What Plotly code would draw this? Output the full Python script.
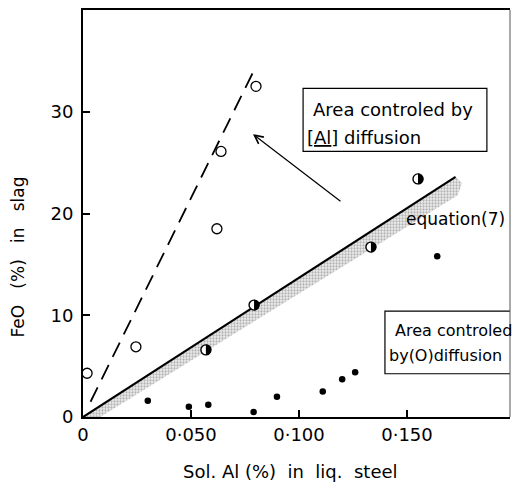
import plotly.graph_objects as go

# Sol. Al in steel (%) vs FeO in slag (%)
open_x = [0.0019, 0.0245, 0.0620, 0.0639, 0.0801]
open_y = [4.3, 6.9, 18.5, 26.1, 32.5]

half_x = [0.0569, 0.0792, 0.1333, 0.1551]
half_y = [6.6, 11.0, 16.7, 23.4]

dot_x = [0.030, 0.049, 0.058, 0.079, 0.0898, 0.111, 0.120, 0.126, 0.164]
dot_y = [1.6, 1.0, 1.2, 0.5, 2.0, 2.5, 3.7, 4.4, 15.8]

# equation (7) line and its scatter band
eq_x = [0.0, 0.1725]
eq_y = [0.0, 23.6]
band_x = [0.0, 0.1725, 0.1755, 0.1735, 0.008, 0.0]
band_y = [0.0, 23.6, 23.0, 21.8, 0.0, 0.0]

# [Al] diffusion limit
dash_x = [0.0035, 0.0797]
dash_y = [1.5, 34.3]

x_ticks = [0, 0.05, 0.10, 0.15]
x_ticklabels = ["0", "0·050", "0·100", "0·150"]
y_ticks = [0, 10, 20, 30]
y_ticklabels = ["0", "10", "20", "30"]

FONT = "DejaVu Sans"
SP = "\u00a0"

fig = go.Figure()

fig.add_trace(go.Scatter(
    x=band_x, y=band_y, mode="lines", fill="toself",
    line=dict(width=0, color="rgba(0,0,0,0)"),
    fillcolor="rgba(255,255,255,0)",
    fillpattern=dict(shape=".", size=3, solidity=0.45, fgcolor="#777", bgcolor="#eeeeee"),
    hoverinfo="skip", showlegend=False))

fig.add_trace(go.Scatter(
    x=eq_x, y=eq_y, mode="lines",
    line=dict(color="black", width=2.2), showlegend=False))

fig.add_trace(go.Scatter(
    x=dash_x, y=dash_y, mode="lines",
    line=dict(color="black", width=1.8, dash="16px,9px"), showlegend=False))

fig.add_trace(go.Scatter(
    x=open_x, y=open_y, mode="markers",
    marker=dict(symbol="circle-open", size=10, color="black", line=dict(width=1.3)),
    showlegend=False))

# half-filled circles: white disc with outline, right half blacked in by shapes
fig.add_trace(go.Scatter(
    x=half_x, y=half_y, mode="markers",
    marker=dict(symbol="circle", size=10, color="white",
                line=dict(width=1.4, color="black")),
    showlegend=False))

fig.add_trace(go.Scatter(
    x=dot_x, y=dot_y, mode="markers",
    marker=dict(symbol="circle", size=6.5, color="black"), showlegend=False))

R = 5.4
K = 0.5523 * R
half_disc = (f"M0,-{R} C{K:.2f},-{R} {R},-{K:.2f} {R},0 "
             f"C{R},{K:.2f} {K:.2f},{R} 0,{R} Z")

shapes = [
    dict(type="path", xref="x", yref="y", xsizemode="pixel", ysizemode="pixel",
         xanchor=hx, yanchor=hy, path=half_disc,
         fillcolor="black", line=dict(width=0))
    for hx, hy in zip(half_x, half_y)
]
shapes += [
    dict(type="rect", xref="x", yref="y", x0=0.1019, x1=0.1870, y0=26.1, y1=32.3,
         line=dict(color="black", width=1.2)),
    dict(type="rect", xref="x", yref="y", x0=0.1398, x1=0.215, y0=4.25, y1=10.4,
         line=dict(color="black", width=1.2)),
    dict(type="line", xref="paper", yref="paper", x0=1, x1=1, y0=0, y1=1,
         line=dict(color="#555", width=1)),
]

annotations = [
    dict(x=0.486, y=-0.135, xref="paper", yref="paper",
         xanchor="center", yanchor="middle",
         text=f"Sol. Al (%){SP*2}in{SP*2}liq.{SP*2}steel", showarrow=False,
         font=dict(family=FONT, size=18, color="black")),
    dict(x=-0.152, y=0.392, xref="paper", yref="paper",
         xanchor="center", yanchor="middle",
         text=f"FeO{SP*3}(%){SP*3}in{SP*3}slag", textangle=-90, showarrow=False,
         font=dict(family=FONT, size=17, color="black")),
    dict(x=0.1056, y=30.2, xref="x", yref="y", xanchor="left",
         text="Area controled by", showarrow=False,
         font=dict(family=FONT, size=18, color="black")),
    dict(x=0.1028, y=27.5, xref="x", yref="y", xanchor="left",
         text="[<u>Al</u>] diffusion", showarrow=False,
         font=dict(family=FONT, size=18, color="black")),
    dict(x=0.1435, y=8.55, xref="x", yref="y", xanchor="left",
         text="Area controled", showarrow=False,
         font=dict(family=FONT, size=16, color="black")),
    dict(x=0.1407, y=6.0, xref="x", yref="y", xanchor="left",
         text="by(O)diffusion", showarrow=False,
         font=dict(family=FONT, size=16, color="black")),
    dict(x=0.1486, y=19.5, xref="x", yref="y", xanchor="left",
         text="equation(7)", showarrow=False,
         font=dict(family=FONT, size=17, color="black")),
    dict(x=0.0787, y=27.8, xref="x", yref="y",
         ax=0.1199, ay=21.1, axref="x", ayref="y",
         text="", showarrow=True, arrowhead=5, arrowsize=1.4,
         arrowwidth=1.2, arrowcolor="black"),
]

fig.update_layout(
    width=512, height=485,
    margin=dict(l=83, r=2, t=10, b=68),
    paper_bgcolor="white", plot_bgcolor="white",
    font=dict(family=FONT, color="black"),
    annotations=annotations, shapes=shapes,
    xaxis=dict(range=[0, 0.1977], showgrid=False, zeroline=False,
               showline=True, linecolor="black", linewidth=2, mirror=True,
               ticks="inside", ticklen=7, tickwidth=1.5, tickcolor="black",
               tickvals=x_ticks, ticktext=x_ticklabels,
               tickfont=dict(family=FONT, size=18, color="black")),
    yaxis=dict(range=[0, 40], showgrid=False, zeroline=False,
               showline=True, linecolor="black", linewidth=2,
               ticks="inside", ticklen=7, tickwidth=1.5, tickcolor="black",
               ticklabelstandoff=4,
               tickvals=y_ticks, ticktext=y_ticklabels,
               tickfont=dict(family=FONT, size=18, color="black")),
)

fig.write_html("out.html")
